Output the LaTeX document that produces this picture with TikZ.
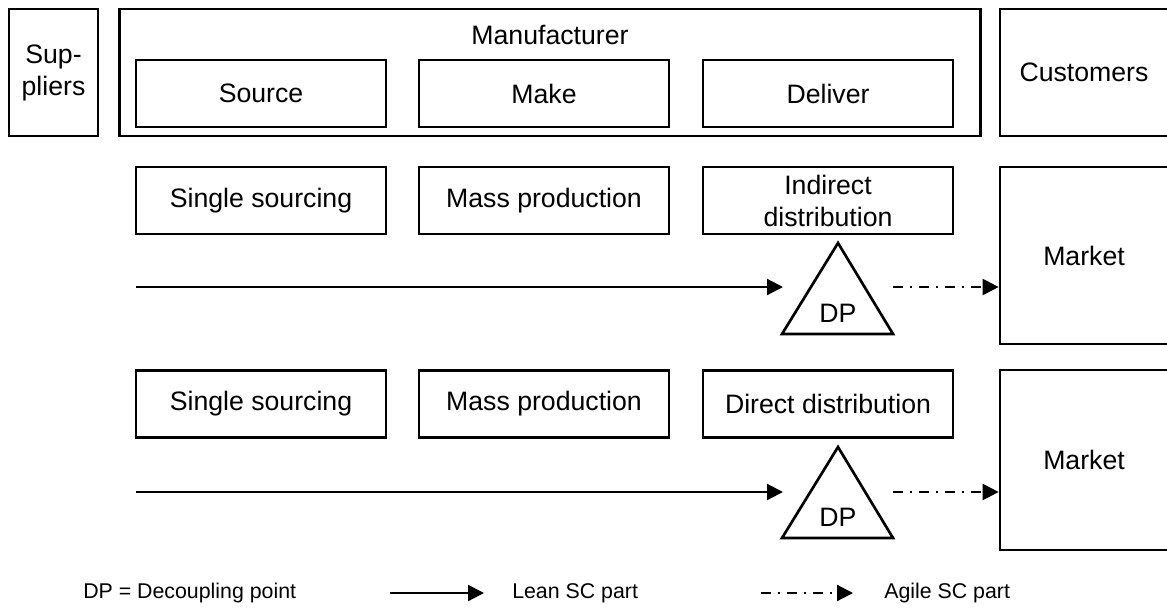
\documentclass[tikz,border=0pt]{standalone}
\usepackage{fontspec}
\setmainfont{Liberation Sans}
\usetikzlibrary{arrows.meta}

\tikzset{
  stage/.style={draw, line width=2pt, inner sep=0pt, align=center, font=\fontsize{20}{24}\selectfont},
  stepbox/.style={stage, minimum width=187.5pt, minimum height=50.25pt},
  lbl/.style={inner sep=0pt, font=\fontsize{20}{24}\selectfont},
  legendtext/.style={inner sep=0pt, anchor=west, font=\fontsize{16}{19}\selectfont},
  lean/.style={line width=1.6pt, -{Triangle[length=12pt,width=12pt]}},
  agile/.style={line width=1.6pt, dash pattern=on 7.5pt off 5pt on 2pt off 5pt, -{Triangle[length=12pt,width=12pt]}},
  dpshape/.style={line width=2pt, line join=miter}
}

\begin{document}
\begin{tikzpicture}[x=0.75pt, y=-0.75pt]
\useasboundingbox (0,0) rectangle (1167,608);

% top row: suppliers, manufacturer, customers
\node[stage, minimum width=66.75pt, minimum height=95.25pt] (sup) at (53.5,72.5) {Sup-\\pliers};
\node[stage, minimum width=645.75pt, minimum height=95.25pt] (manu) at (550,72.5) {};
\node[lbl] (manulbl) at (550,35) {Manufacturer};
\node[stepbox] (source) at (261,93.5) {Source};
\node[stepbox] (make) at (544,93.5) {Make};
\node[stepbox] (deliver) at (828,93.5) {Deliver};
\node[stage, minimum width=126pt, minimum height=95.25pt] (cust) at (1084,72.5) {Customers};

% first chain: indirect distribution
\node[stepbox] (src1) at (261,200.5) {Single sourcing};
\node[stepbox] (mk1) at (544,200.5) {Mass production};
\node[stepbox] (dl1) at (828,200.5) {Indirect\\distribution};
\node[stage, minimum width=126pt, minimum height=132.75pt] (mkt1) at (1084,255.5) {Market};

\coordinate (l1s) at (136,287);
\coordinate (l1e) at (783,287);
\draw[lean] (l1s) -- (l1e);
\coordinate (t1a) at (838,243);
\coordinate (t1l) at (782,334);
\coordinate (t1r) at (893,334);
\draw[dpshape] (t1a) -- (t1l) -- (t1r) -- cycle;
\node[lbl] (dp1) at (838,313) {DP};
\coordinate (a1s) at (893,287);
\draw[agile] (a1s) -- (a1s -| mkt1.west);

% second chain: direct distribution
\node[stepbox] (src2) at (261,404) {Single sourcing};
\node[stepbox] (mk2) at (544,404) {Mass production};
\node[stepbox] (dl2) at (828,404) {Direct distribution};
\node[stage, minimum width=126pt, minimum height=135pt] (mkt2) at (1084,460) {Market};

\coordinate (l2s) at (136,492);
\coordinate (l2e) at (783,492);
\draw[lean] (l2s) -- (l2e);
\coordinate (t2a) at (838,447);
\coordinate (t2l) at (782,538);
\coordinate (t2r) at (893,538);
\draw[dpshape] (t2a) -- (t2l) -- (t2r) -- cycle;
\node[lbl] (dp2) at (838,517) {DP};
\coordinate (a2s) at (893,492);
\draw[agile] (a2s) -- (a2s -| mkt2.west);

% legend
\node[legendtext] (leg1) at (83,593) {DP = Decoupling point};
\coordinate (lgls) at (390,593);
\coordinate (lgle) at (484,593);
\draw[lean] (lgls) -- (lgle);
\node[legendtext] (leg2) at (512,593) {Lean SC part};
\coordinate (lgas) at (761,593);
\coordinate (lgae) at (853,593);
\draw[agile] (lgas) -- (lgae);
\node[legendtext] (leg3) at (884,593) {Agile SC part};
\end{tikzpicture}
\end{document}
